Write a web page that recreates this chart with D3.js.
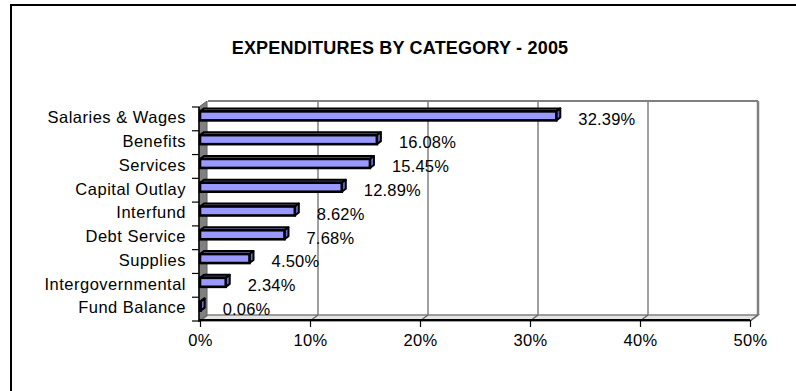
<!DOCTYPE html>
<html>
<head>
<meta charset="utf-8">
<script src="https://cdn.jsdelivr.net/npm/d3@7/dist/d3.min.js"></script>
<style>
  body { margin: 0; background: #fff; }
  svg { display: block; }
  text { font-family: "Liberation Sans", Arial, sans-serif; fill: #000; }
</style>
</head>
<body>
<svg id="chart" width="796" height="391"></svg>
<script>
const title = "EXPENDITURES BY CATEGORY - 2005";
const categories = ["Salaries & Wages", "Benefits", "Services", "Capital Outlay", "Interfund",
  "Debt Service", "Supplies", "Intergovernmental", "Fund Balance"];
const shares = [32.39, 16.08, 15.45, 12.89, 8.62, 7.68, 4.50, 2.34, 0.06];
const xTicks = [0, 10, 20, 30, 40, 50];

const svg = d3.select("#chart");
const depthX = 8, depthY = -6;     // wall depth
const barDX = 4, barDY = -3;       // bar depth
const barH = 9;

const x = d3.scaleLinear().domain([0, 50]).range([200, 750]);
const y = d3.scaleBand().domain(categories).range([107, 321]);
const yTop = y.range()[0], yBot = y.range()[1];

// outer frame
svg.append("rect")
  .attr("x", 11).attr("y", 5).attr("width", 800).attr("height", 400)
  .attr("fill", "none").attr("stroke", "#000").attr("stroke-width", 2);

svg.append("text")
  .attr("x", 400).attr("y", 48).attr("dy", "0.35em")
  .attr("text-anchor", "middle")
  .style("font-size", "18px").style("font-weight", "bold")
  .style("letter-spacing", "0.2px")
  .text(title);

const plot = svg.append("g");

// floor
plot.append("path")
  .attr("d", `M${x(0)},${yBot} L${x(0) + depthX},${yBot + depthY} L${x(50) + depthX},${yBot + depthY} L${x(50)},${yBot} Z`)
  .attr("fill", "#e4e4e4").attr("stroke", "#808080").attr("stroke-width", 1.5);

// left wall
plot.append("path")
  .attr("d", `M${x(0) - 1},${yTop} L${x(0) + depthX - 1},${yTop + depthY} L${x(0) + depthX - 1},${yBot + depthY} L${x(0) - 1},${yBot} Z`)
  .attr("fill", "#808080").attr("stroke", "#606060").attr("stroke-width", 1);

// back wall top edge
plot.append("line")
  .attr("x1", x(0) + depthX).attr("x2", x(50) + depthX)
  .attr("y1", yTop + depthY).attr("y2", yTop + depthY)
  .attr("stroke", "#808080").attr("stroke-width", 2);

// back wall gridlines
plot.selectAll("line.grid")
  .data(xTicks.slice(1))
  .enter().append("line")
  .attr("class", "grid")
  .attr("x1", d => x(d) + depthX).attr("x2", d => x(d) + depthX)
  .attr("y1", yTop + depthY).attr("y2", yBot + depthY)
  .attr("stroke", "#808080").attr("stroke-width", d => d === 50 ? 2.5 : 1.5);

// floor tick diagonals
plot.selectAll("line.floortick")
  .data(xTicks.slice(1))
  .enter().append("line")
  .attr("class", "floortick")
  .attr("x1", d => x(d)).attr("x2", d => x(d) + depthX)
  .attr("y1", yBot).attr("y2", yBot + depthY)
  .attr("stroke", "#606060").attr("stroke-width", 1.2);

// bars
const bars = plot.selectAll("g.bar")
  .data(categories)
  .enter().append("g")
  .attr("class", "bar");

const barTop = d => y(d) + y.bandwidth() / 2 - 3 - barH / 2;

bars.append("path")
  .attr("d", (d, i) => {
    const x0 = x(0), x1 = x(shares[i]), t = barTop(d);
    return `M${x0},${t} L${x0 + barDX},${t + barDY} L${x1 + barDX},${t + barDY} L${x1},${t} Z`;
  })
  .attr("fill", "#66669a").attr("stroke", "#000").attr("stroke-width", 2)
  .attr("stroke-linejoin", "round");

bars.append("path")
  .attr("d", (d, i) => {
    const x1 = x(shares[i]), t = barTop(d);
    return `M${x1},${t} L${x1 + barDX},${t + barDY} L${x1 + barDX},${t + barDY + barH} L${x1},${t + barH} Z`;
  })
  .attr("fill", "#6a6ad0").attr("stroke", "#000").attr("stroke-width", 2)
  .attr("stroke-linejoin", "round");

bars.append("rect")
  .attr("x", x(0))
  .attr("y", d => barTop(d))
  .attr("width", (d, i) => Math.max(0.5, x(shares[i]) - x(0)))
  .attr("height", barH)
  .attr("fill", "#9999ff").attr("stroke", "#000").attr("stroke-width", 2.6);

// value labels
bars.append("text")
  .attr("x", (d, i) => x(shares[i]) + 22)
  .attr("y", d => y(d) + y.bandwidth() / 2)
  .attr("dy", "0.35em")
  .style("font-size", "16.5px").style("letter-spacing", "0.2px")
  .text((d, i) => shares[i].toFixed(2) + "%");

// left axis (category)
plot.append("line")
  .attr("x1", x(0) - 1).attr("x2", x(0) - 1)
  .attr("y1", yTop).attr("y2", yBot + 1)
  .attr("stroke", "#000").attr("stroke-width", 1.5);

const bounds = categories.map(c => y(c)).concat([yBot]);
plot.selectAll("line.ytick")
  .data(bounds)
  .enter().append("line")
  .attr("class", "ytick")
  .attr("x1", x(0) - 8).attr("x2", x(0) - 1)
  .attr("y1", d => d).attr("y2", d => d)
  .attr("stroke", "#000").attr("stroke-width", 1.2);

const yAxis = d3.axisLeft(y).tickSize(0).tickPadding(13);
const yg = plot.append("g")
  .attr("transform", `translate(${x(0) - 1},-1)`)
  .call(yAxis);
yg.select(".domain").remove();
yg.selectAll("text")
  .style("font-family", "'Liberation Sans', Arial, sans-serif")
  .style("font-size", "16.5px").style("letter-spacing", "0.5px")
  .attr("fill", "#000");

// bottom axis
const xAxis = d3.axisBottom(x)
  .tickValues(xTicks)
  .tickSize(7).tickPadding(7)
  .tickFormat(d => d + "%");
const xg = plot.append("g")
  .attr("transform", `translate(0,${yBot - 1})`)
  .call(xAxis);
xg.select(".domain").attr("d", `M${x(0) - 1},0H${x(50)}`).attr("stroke", "#000").attr("stroke-width", 2);
xg.selectAll(".tick line").attr("stroke", "#000").attr("stroke-width", 1.2);
xg.selectAll("text")
  .style("font-family", "'Liberation Sans', Arial, sans-serif")
  .style("font-size", "16.5px").style("letter-spacing", "0.4px")
  .attr("fill", "#000");
</script>
</body>
</html>
